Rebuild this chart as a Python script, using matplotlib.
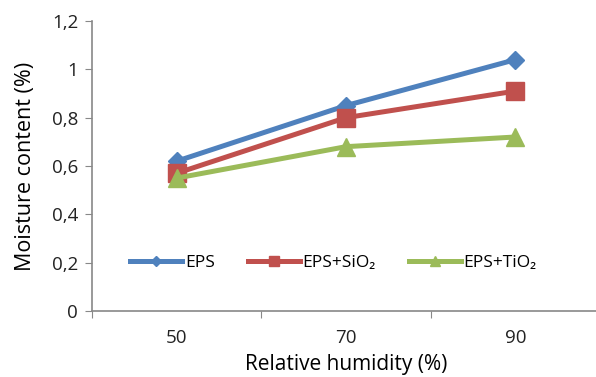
import matplotlib
matplotlib.use("Agg")
import matplotlib.pyplot as plt
from matplotlib.ticker import FuncFormatter

plt.rcParams['font.family'] = ['Open Sans', 'DejaVu Sans']

humidity = ['50', '70', '90']
eps = [0.62, 0.85, 1.04]
eps_sio2 = [0.57, 0.80, 0.91]
eps_tio2 = [0.55, 0.68, 0.72]

series = [
    ('EPS', eps, '#4F81BD', 'D', 9.5),
    ('EPS+SiO\u2082', eps_sio2, '#C0504D', 's', 12.5),
    ('EPS+TiO\u2082', eps_tio2, '#9BBB59', '^', 13),
]

fig = plt.figure(figsize=(5.96, 3.77), dpi=100)
ax = fig.add_axes([92 / 596, 66 / 377, 508 / 596, 290 / 377])

x = range(len(humidity))
for name, vals, col, mk, ms in series:
    ax.plot(x, vals, color=col, lw=3.6, marker=mk, markersize=ms, label=name)

ax.set_xlim(-0.5, 2.5)
ax.set_ylim(0, 1.2)
ax.set_yticks([0, 0.2, 0.4, 0.6, 0.8, 1.0, 1.2])
ax.yaxis.set_major_formatter(FuncFormatter(lambda v, p: ('%g' % round(v, 1)).replace('.', ',')))

# category labels centred, tick marks between categories
ax.set_xticks([-0.5, 0.5, 1.5, 2.5])
ax.set_xticklabels([])
ax.set_xticks(list(x), minor=True)
ax.set_xticklabels(humidity, minor=True)
ax.tick_params(axis='x', which='minor', length=0, pad=13, labelsize=13.5, colors='#222222')
ax.tick_params(axis='x', which='major', length=5, direction='out', color='#888888')
ax.tick_params(axis='y', length=5, direction='out', color='#888888', labelsize=13.5,
               labelcolor='#222222', pad=5)

for s in ['top', 'right']:
    ax.spines[s].set_visible(False)
for s in ['left', 'bottom']:
    ax.spines[s].set_color('#888888')
    ax.spines[s].set_linewidth(1.2)

ax.set_ylabel('Moisture content (%)', fontsize=15.5, labelpad=11)
ax.set_xlabel('Relative humidity (%)', fontsize=15, labelpad=5)

ax.legend(loc='center', bbox_to_anchor=(0.475, 0.166), ncol=3, frameon=False,
          fontsize=12.5, handlelength=3.0, markerscale=0.55, columnspacing=1.9,
          handletextpad=0.15)

fig.savefig('out.png', dpi=100)
